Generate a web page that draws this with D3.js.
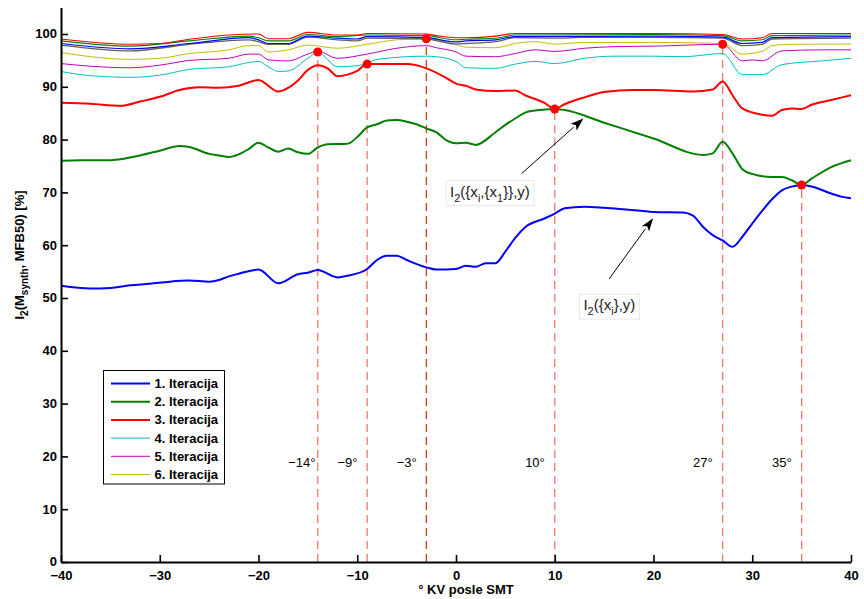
<!DOCTYPE html>
<html><head><meta charset="utf-8">
<script src="https://cdn.jsdelivr.net/npm/d3@7"></script>
<style>
body{margin:0;background:#fff}
text{font-family:"Liberation Sans",Arial,Helvetica,sans-serif}
</style></head>
<body><svg id="c" width="864" height="599"></svg>
<script>
// ---------------- DATA ----------------
const xTicks = [-40,-30,-20,-10,0,10,20,30,40];
const yTicks = [0,10,20,30,40,50,60,70,80,90,100];
const legendLabels = ["1. Iteracija","2. Iteracija","3. Iteracija","4. Iteracija","5. Iteracija","6. Iteracija"];

const iter1 = [[-40,52.3],[-37,51.8],[-35,51.9],[-33,52.4],[-31,52.7],[-29,53.1],[-27,53.3],[-25,53.1],[-24,53.4],[-23,54.1],[-22,54.6],[-20,55.4],[-18,52.8],[-16,54.5],[-15,54.8],[-14,55.3],[-12,53.9],[-11,54.2],[-9,55.5],[-8,57.2],[-7,58.0],[-6,58.0],[-5,57.2],[-3,55.8],[-2,55.4],[0,55.5],[1,56.1],[2,55.9],[3,56.6],[4,56.6],[5,58.8],[6,61.4],[7,63.4],[9,65.1],[10,66.0],[11,67.0],[13,67.3],[15,67.1],[17,66.8],[20,66.3],[23,66.2],[24,65.6],[25,63.5],[26,61.9],[27,60.9],[28,59.7],[29,61.6],[30,64.1],[31,66.5],[32,68.7],[33,70.4],[34,71.1],[35,71.4],[36,71.1],[38,69.8],[39,69.2],[40,68.9]];
const iter2 = [[-40,76.0],[-38,76.1],[-35,76.1],[-34,76.3],[-32,77.0],[-30,77.9],[-28,78.8],[-27,78.6],[-25,77.3],[-24,77.0],[-23,76.7],[-22,77.2],[-21,78.2],[-20,79.4],[-19,78.5],[-18,77.7],[-17,78.3],[-16,77.6],[-15,77.3],[-14,78.5],[-13,79.1],[-11,79.2],[-10,80.5],[-9,82.3],[-8,82.9],[-7,83.6],[-6,83.7],[-5,83.4],[-4,82.9],[-3,82.1],[-2,81.4],[-1,79.9],[0,79.3],[1,79.4],[2,79.0],[4,81.4],[5,82.8],[6,84.0],[7,85.1],[8,85.5],[10,85.8],[11,85.6],[15,83.2],[20,80.2],[25,77.1],[26,77.4],[27,79.6],[28,77.4],[29,74.4],[30,73.5],[32,72.9],[33,72.9],[34,72.3],[35,71.4],[36,72.6],[38,74.8],[40,76.1]];
const iter3 = [[-40,87.0],[-37,86.8],[-34,86.4],[-32,87.2],[-30,88.1],[-28,89.4],[-26,89.9],[-24,89.8],[-22,90.2],[-20,91.3],[-18,89.1],[-17,89.8],[-16,91.2],[-15,93.2],[-14,94.1],[-13,93.5],[-12,92.0],[-11,92.3],[-10,93.0],[-9,94.3],[-8,94.3],[-5,94.3],[-3,93.5],[-1,91.7],[0,90.6],[1,90.2],[2,89.5],[4,89.2],[6,89.3],[7,88.4],[9,86.9],[10,85.8],[11,86.7],[13,88.0],[15,89.0],[18,89.4],[20,89.4],[24,89.1],[26,89.5],[27,91.0],[28,88.4],[29,85.9],[31,84.7],[32,84.5],[33,85.6],[34,85.9],[35,85.8],[36,86.6],[38,87.5],[40,88.4]];
const iter4 = [[-40,92.9],[-37,92.1],[-33,91.8],[-30,92.2],[-27,93.3],[-23,93.8],[-21,94.6],[-20,94.8],[-19,93.8],[-18,92.9],[-17,93.0],[-15,95.4],[-14,96.5],[-12,93.8],[-10,94.0],[-9,94.5],[-8,95.2],[-3,95.8],[-2,95.7],[0,94.8],[1,93.6],[4,93.5],[6,94.3],[8,94.8],[10,94.4],[13,95.4],[16,95.8],[20,95.8],[23,95.7],[27,96.3],[29,92.3],[31,92.3],[33,94.2],[37,94.9],[40,95.4]];
const iter5 = [[-40,94.4],[-37,93.9],[-33,93.6],[-30,94.1],[-27,95.0],[-23,95.4],[-21,96.2],[-20,96.2],[-19,95.1],[-17,94.9],[-15,96.2],[-14,96.7],[-12,95.4],[-9,96.2],[-6,97.3],[-3,97.8],[-2,97.4],[0,96.6],[1,95.8],[4,95.7],[6,96.3],[8,97.0],[10,96.7],[13,97.3],[16,97.6],[20,97.7],[27,98.05],[29,94.9],[30,95.1],[31,94.9],[33,96.8],[37,97.0],[40,97.0]];
const iter6 = [[-40,96.5],[-37,95.7],[-33,95.2],[-30,95.4],[-27,96.3],[-23,97.0],[-21,97.8],[-20,97.8],[-19,96.6],[-17,97.0],[-15,97.9],[-12,97.3],[-9,98.05],[-6,98.9],[-3,99.1],[0,98.0],[1,97.5],[4,97.4],[6,98.2],[8,98.55],[10,98.1],[13,98.4],[20,98.4],[27,98.2],[29,96.2],[31,96.7],[32,97.8],[34,98.05],[40,98.1]];
const iter7 = [[-40,99.05],[-33,98.05],[-30,98.2],[-27,99.0],[-23,99.8],[-20,100.0],[-19,99.1],[-17,99.1],[-15,100.3],[-12,99.8],[-10,99.8],[-9,100.1],[-3,100.0],[-2,99.7],[0,99.3],[1,99.3],[4,99.6],[6,100.1],[20,100.1],[27,99.9],[29,99.05],[31,99.3],[32,100.1],[40,100.1]];
const iter8 = [[-40,98.7],[-33,97.7],[-27,98.7],[-21,99.6],[-20,99.3],[-19,98.7],[-17,98.7],[-15,99.9],[-12,99.5],[-9,99.8],[-3,99.7],[0,98.9],[1,99.0],[4,99.2],[6,99.8],[20,99.9],[27,99.7],[29,98.7],[31,98.9],[32,99.7],[40,99.8]];
const iter9 = [[-40,98.2],[-33,97.2],[-27,98.2],[-21,99.3],[-20,98.9],[-19,98.2],[-17,98.2],[-15,99.6],[-12,99.2],[-10,99.05],[-9,99.5],[-3,99.3],[0,98.5],[1,98.7],[4,98.9],[6,99.5],[20,99.6],[27,99.4],[29,98.2],[31,98.4],[32,99.3],[40,99.5]];
const iter10 = [[-40,97.9],[-33,96.8],[-27,98.05],[-21,98.9],[-20,98.55],[-19,98.05],[-17,98.05],[-15,99.4],[-12,98.9],[-10,98.7],[-9,99.2],[-3,99.05],[0,98.1],[1,98.2],[4,98.55],[6,99.3],[10,99.2],[13,99.35],[20,99.35],[27,99.2],[29,97.8],[31,98.05],[32,99.05],[40,99.2]];

const markX = [-14,-9,-3,10,27,35];
const markY = [96.6,94.3,99.1,85.8,98.05,71.4];
const markLabels = ["\u221214\u00b0","\u22129\u00b0","\u22123\u00b0","10\u00b0","27\u00b0","35\u00b0"];

// annotations: [tailX, tailY, headX, headY]
const arrow1 = [6.66,73.6,12.9,84.0];
const arrow2 = [15.5,53.6,19.96,65.1];
const label1Pos = [-0.6,69.2];
const label2Pos = [12.9,47.7];

// ---------------- STYLE / LAYOUT ----------------
const svg = d3.select("#c");
const x = d3.scaleLinear().domain([-40,40]).range([61,851]);
const y = d3.scaleLinear().domain([0,105]).range([562,7.6]);

const seriesDefs = [
  {d:iter1, c:"#0000ff", w:2},
  {d:iter2, c:"#008000", w:2},
  {d:iter3, c:"#ff0000", w:2},
  {d:iter4, c:"#00bfbf", w:1},
  {d:iter5, c:"#bf00bf", w:1},
  {d:iter6, c:"#bfbf00", w:1},
  {d:iter10, c:"#606060", w:1.3},
  {d:iter9, c:"#0000ff", w:1.2},
  {d:iter8, c:"#008000", w:1.1},
  {d:iter7, c:"#ff0000", w:1.1}
];

const line = d3.line().x(d=>x(d[0])).y(d=>y(d[1])).curve(d3.curveMonotoneX);

// dashed marker lines
const dashColors = ["#ee7a6a","#ee7a6a","#d83a20","#ee7a6a","#ee7a6a","#ee7a6a"];
svg.append("g").selectAll("line").data(markX).join("line")
  .attr("x1",d=>x(d)).attr("x2",d=>x(d))
  .attr("y1",y(0)).attr("y2",(d,i)=>y(markY[i]))
  .attr("stroke",(d,i)=>dashColors[i]).attr("stroke-width",1.3)
  .attr("stroke-dasharray","8,5");

// series
svg.append("g").selectAll("path").data(seriesDefs).join("path")
  .attr("d",s=>line(s.d)).attr("fill","none")
  .attr("stroke",s=>s.c).attr("stroke-width",s=>s.w)
  .attr("stroke-linejoin","round");

// dots
svg.append("g").selectAll("circle").data(markX).join("circle")
  .attr("cx",d=>x(d)).attr("cy",(d,i)=>y(markY[i])).attr("r",4.5)
  .attr("fill","#ff0000");

// mark labels
svg.append("g").selectAll("text").data(markX).join("text")
  .attr("x",d=>x(d-3)).attr("y",y(18.0))
  .attr("font-size",13).attr("fill","#000")
  .text((d,i)=>markLabels[i]);

// axes
const xAxis = d3.axisBottom(x).tickValues(xTicks).tickSizeInner(-7).tickSizeOuter(0).tickPadding(9);
const gx = svg.append("g").attr("transform",`translate(0,${y(0)})`).call(xAxis);
const yAxis = d3.axisLeft(y).tickValues(yTicks).tickSizeInner(-7).tickSizeOuter(0).tickPadding(4);
const gy = svg.append("g").attr("transform",`translate(${x(-40)},0)`).call(yAxis);
[gx,gy].forEach(g=>{
  g.select(".domain").attr("stroke","#000").attr("stroke-width",2);
  g.selectAll(".tick line").attr("stroke","#000").attr("stroke-width",1.6);
  g.selectAll(".tick text").attr("font-size",13).attr("font-weight","bold")
    .attr("font-family","'Liberation Sans',Arial,sans-serif").attr("fill","#000");
});
gy.selectAll(".tick text").attr("dy","0.3em");

// axis labels
svg.append("text").attr("x",466).attr("y",594).attr("text-anchor","middle")
  .attr("font-size",13).attr("font-weight","bold").text("\u00b0 KV posle SMT");

function rich(t, parts, subSize, shift){
  parts.forEach(p=>{
    const ts = t.append("tspan").text(p[0]);
    if(p[1]){ ts.attr("font-size",subSize).attr("dy",shift); }
    else if(p[2]){ ts.attr("dy",-shift); }
  });
}
const yl = svg.append("text").attr("transform","translate(24,255) rotate(-90)")
  .attr("text-anchor","middle").attr("font-size",13).attr("font-weight","bold");
rich(yl, [["I"],["2",1],["(M",0,1],["synth",1],[", MFB50) [%]",0,1]], 10, 4);

// annotations
function annot(pos, parts){
  const g = svg.append("g");
  const rect = g.append("rect");
  const t = g.append("text").attr("x",x(pos[0])).attr("y",y(pos[1]))
    .attr("font-size",15).attr("fill","#222");
  rich(t, parts, 11, 5);
  const b = t.node().getBBox();
  rect.attr("x",b.x-4).attr("y",b.y-2).attr("width",b.width+8).attr("height",b.height+4)
    .attr("fill","#fff").attr("stroke","#e8e8e8").attr("stroke-width",1);
}
annot(label1Pos, [["I"],["2",1],["({x",0,1],["i",1],[",{x",0,1],["1",1],["}},y)",0,1]]);
annot(label2Pos, [["I"],["2",1],["({x",0,1],["i",1],["},y)",0,1]]);

function arrow(a){
  const x1=x(a[0]), y1=y(a[1]), x2=x(a[2]), y2=y(a[3]);
  const ang = Math.atan2(y2-y1,x2-x1), L=13, W=4.5;
  const bx = x2-L*Math.cos(ang), by = y2-L*Math.sin(ang);
  svg.append("line").attr("x1",x1).attr("y1",y1).attr("x2",bx).attr("y2",by)
    .attr("stroke","#000").attr("stroke-width",1);
  const px=-Math.sin(ang)*W, py=Math.cos(ang)*W;
  const bx2 = x2-(L-3)*Math.cos(ang), by2 = y2-(L-3)*Math.sin(ang);
  svg.append("path").attr("d",`M${x2},${y2}L${bx+px},${by+py}L${bx2},${by2}L${bx-px},${by-py}Z`)
    .attr("fill","#000");
}
arrow(arrow1); arrow(arrow2);

// legend
const lg = svg.append("g").attr("transform","translate(103.5,370.5)");
lg.append("rect").attr("width",121).attr("height",113.5).attr("fill","#fff")
  .attr("stroke","#000").attr("stroke-width",1);
const rows = lg.selectAll("g.row").data(legendLabels).join("g").attr("class","row")
  .attr("transform",(d,i)=>`translate(0,${13+i*18.2})`);
rows.append("line").attr("x1",7.5).attr("x2",46.5)
  .attr("stroke",(d,i)=>seriesDefs[i].c).attr("stroke-width",(d,i)=>seriesDefs[i].w);
rows.append("text").attr("x",51).attr("dy","0.35em").attr("font-size",13)
  .attr("font-weight","bold").text(d=>d);
</script>
</body></html>
